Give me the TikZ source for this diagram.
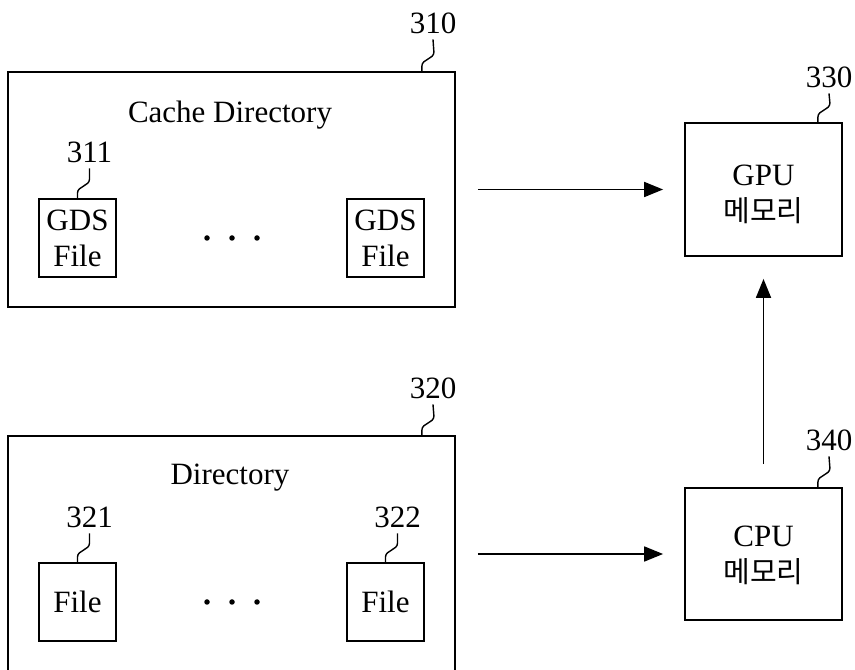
\documentclass[tikz,border=0pt]{standalone}
\usepackage{fontspec}
\setmainfont{Liberation Serif}
\newfontfamily\hangul{Noto Sans CJK KR}
\usetikzlibrary{arrows.meta,calc}
\tikzset{
  frame/.style={draw=black, line width=1.8pt, inner sep=0pt, align=center,
    font=\fontsize{31}{36}\selectfont},
  txt/.style={inner sep=0pt, align=center, font=\fontsize{31}{36}\selectfont},
  refnum/.style={inner sep=0pt, outer sep=6pt, font=\fontsize{31}{36}\selectfont},
  leader/.style={line width=1.4pt},
  flow/.style={line width=1.8pt, -{Triangle[length=19pt,width=15pt]}},
  dot/.style={circle, fill=black, inner sep=0pt, minimum size=5.5pt},
}
\newcommand{\kor}[1]{{\hangul\fontsize{29}{36}\selectfont #1}}
\begin{document}
\begin{tikzpicture}[x=1pt,y=1pt]
\useasboundingbox (0,0) rectangle (855,670);
\clip (0,0) rectangle (855,670);

% cache directory 310
\node[frame, minimum width=447pt, minimum height=235pt] (b310) at (231.5,480.5) {};
\node[txt] (t310) at (230,555) {Cache Directory};
\node[frame, minimum width=77pt, minimum height=78pt] (b311) at (77.5,432) {GDS\\File};
\node[frame, minimum width=77pt, minimum height=78pt] (b312) at (385.5,432) {GDS\\File};
\node[dot] (d1) at (207,432) {};
\node[dot] (d2) at (232,432) {};
\node[dot] (d3) at (257,432) {};

% directory 320 (runs past the lower edge)
\node[frame, minimum width=447pt, minimum height=244pt] (b320) at (231.5,112) {};
\node[txt] (t320) at (230,192) {Directory};
\node[frame, minimum width=77pt, minimum height=78pt] (f321) at (77.5,68) {File};
\node[frame, minimum width=77pt, minimum height=78pt] (f322) at (385.5,68) {File};
\node[dot] (e1) at (207,68) {};
\node[dot] (e2) at (232,68) {};
\node[dot] (e3) at (257,68) {};

% memories
\node[frame, minimum width=157pt, minimum height=133pt] (b330) at (763.5,480.5) {};
\node[txt] (t330) at ($(b330.center)+(0,-5)$) {GPU\\\kor{메모리}};
\node[frame, minimum width=157pt, minimum height=132pt] (b340) at (763.5,116) {};
\node[txt] (t340) at ($(b340.center)+(0,-1)$) {CPU\\\kor{메모리}};

% reference numerals
\node[refnum] (l310) at (433,647) {310};
\node[refnum] (l311) at (89.5,518) {311};
\node[refnum] (l320) at (433,282) {320};
\node[refnum] (l321) at (89.5,153) {321};
\node[refnum] (l322) at (397.5,153) {322};
\node[refnum] (l330) at (829,593) {330};
\node[refnum] (l340) at (829,230) {340};

% leader lines
\coordinate (p310) at ($(b310.north east)+(-34,0)$);
\coordinate (p320) at ($(b320.north east)+(-34,0)$);
\coordinate (p330) at ($(b330.north east)+(-25,0)$);
\coordinate (p340) at ($(b340.north east)+(-25,0)$);
\foreach \s/\l in {p310/l310, b311.north/l311, p320/l320, f321.north/l321,
                   f322.north/l322, p330/l330, p340/l340}
  \draw[leader] (\s) -- ++(0,5) to[out=90,in=-90] ++(12,14) -- (\l.south);

% data flow
\draw[flow] ($(b310.east)+(22,0)$) -- ($(b330.west)+(-21,0)$);
\draw[flow] ($(b320.east |- b340.west)+(22,0)$) -- ($(b340.west)+(-21,0)$);
\draw[flow] ($(b340.north)+(0,23)$) -- ($(b330.south)+(0,-22)$);
\end{tikzpicture}
\end{document}
